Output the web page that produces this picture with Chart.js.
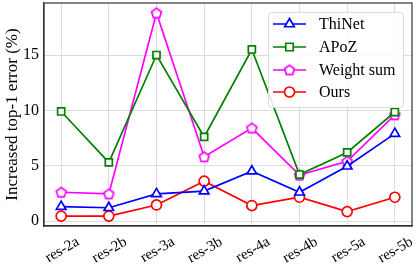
<!DOCTYPE html>
<html>
<head>
<meta charset="utf-8">
<script src="https://cdn.jsdelivr.net/npm/chart.js@4"></script>
<style>
  body{margin:0;background:#fff;}
  #wrap{width:416px;height:266px;}
</style>
</head>
<body>
<div id="wrap"><canvas id="myChart" width="416" height="266"></canvas></div>
<script>
'use strict'
let layers = ['res-2a','res-2b','res-3a','res-3b','res-4a','res-4b','res-5a','res-5b'];
let thinet = [1.3, 1.2, 2.45, 2.7, 4.5, 2.6, 4.95, 7.9];
let apoz = [9.9, 5.3, 15.0, 7.6, 15.5, 4.2, 6.2, 9.85];
let weightSum = [2.6, 2.45, 18.8, 5.8, 8.4, 4.15, 5.4, 9.6];
let ours = [0.45, 0.45, 1.45, 3.6, 1.4, 2.15, 0.85, 2.15];
let yTicks = [0, 5, 10, 15];

let serif = '"Liberation Serif", "Times New Roman", serif';

// pentagon marker (no built-in one in chart.js)
function makePentagon(color, r){
    let c = document.createElement('canvas');
    let s = Math.ceil(r*2+4);
    c.width = s; c.height = s;
    let g = c.getContext('2d');
    g.beginPath();
    for(let i=0;i<5;i++){
        let a = -Math.PI/2 + i*2*Math.PI/5;
        let px = s/2 + r*Math.cos(a), py = s/2 + r*Math.sin(a)+0.5;
        if(i===0) g.moveTo(px,py); else g.lineTo(px,py);
    }
    g.closePath();
    g.fillStyle='#fff'; g.fill();
    g.strokeStyle=color; g.lineWidth=1.7; g.stroke();
    return c;
}
let penta = makePentagon('#ff00ff', 5.2);

function pts(arr){
    return arr.map((v,i)=>({x:i, y:v}));
}

let series = [
    {label:'ThiNet', data:thinet, color:'#0000ff', style:'triangle', r:5.5},
    {label:'APoZ', data:apoz, color:'#008000', style:'rect', r:5},
    {label:'Weight sum', data:weightSum, color:'#ff00ff', style:penta, r:5},
    {label:'Ours', data:ours, color:'#ff0000', style:'circle', r:5}
];

let datasets = series.map(s=>({
    label:s.label,
    data:pts(s.data),
    borderColor:s.color,
    backgroundColor:'#ffffff',
    borderWidth:1.7,
    pointStyle:s.style,
    pointRadius:s.r,
    pointBorderWidth:1.7,
    pointBackgroundColor:'#ffffff',
    pointBorderColor:s.color,
    tension:0,
    clip:false
}));

let frameAndLegend = {
    id:'frameAndLegend',
    afterDraw(chart){
        let ctx = chart.ctx;
        let a = chart.chartArea;
        ctx.save();
        ctx.strokeStyle='#333';
        ctx.lineWidth=1.2;
        ctx.strokeRect(a.left, a.top, a.right-a.left, a.bottom-a.top);

        // legend box
        let bx=268, by=12, bw=135, bh=95;
        ctx.fillStyle='rgba(255,255,255,0.85)';
        ctx.strokeStyle='#ddd';
        ctx.lineWidth=1;
        ctx.beginPath();
        ctx.roundRect(bx+0.5, by+0.5, bw, bh, 3);
        ctx.fill(); ctx.stroke();

        ctx.font = '16px '+serif;
        ctx.textBaseline='middle';
        ctx.textAlign='left';
        let rows=[24,47,70,92];
        let mx=289.5;
        chart.data.datasets.forEach((d,i)=>{
            let y=rows[i];
            ctx.strokeStyle=d.borderColor;
            ctx.lineWidth=1.7;
            ctx.beginPath();
            ctx.moveTo(273,y); ctx.lineTo(306,y);
            ctx.stroke();
            ctx.fillStyle='#ffffff';
            ctx.beginPath();
            if(d.pointStyle==='triangle'){
                let r=d.pointRadius;
                ctx.moveTo(mx, y-r);
                ctx.lineTo(mx+r*0.87, y+r*0.5);
                ctx.lineTo(mx-r*0.87, y+r*0.5);
                ctx.closePath();
                ctx.fill(); ctx.stroke();
            }else if(d.pointStyle==='rect'){
                let r=d.pointRadius*0.75;
                ctx.rect(mx-r, y-r, 2*r, 2*r);
                ctx.fill(); ctx.stroke();
            }else if(d.pointStyle==='circle'){
                ctx.arc(mx, y, d.pointRadius, 0, Math.PI*2);
                ctx.fill(); ctx.stroke();
            }else{
                ctx.drawImage(d.pointStyle, mx-d.pointStyle.width/2, y-d.pointStyle.height/2);
            }
            ctx.fillStyle='#000';
            ctx.fillText(d.label, 319, y+1);
        });
        ctx.restore();
    }
};

new Chart(document.getElementById('myChart').getContext('2d'), {
    type:'line',
    data:{datasets:datasets},
    plugins:[frameAndLegend],
    options:{
        responsive:false,
        animation:false,
        layout:{autoPadding:false, padding:{top:3,right:4,left:0,bottom:0}},
        plugins:{legend:{display:false}, tooltip:{enabled:false}},
        scales:{
            x:{
                type:'linear',
                min:-0.36, max:7.36,
                afterFit(s){ s.height=40; s.paddingLeft=0; s.paddingRight=0; },
                afterBuildTicks(s){ s.ticks = layers.map((l,i)=>({value:i})); },
                ticks:{
                    includeBounds:false,
                    autoSkip:false,
                    minRotation:30, maxRotation:30,
                    labelOffset:17,
                    color:'#000',
                    padding:7,
                    font:{family:serif, size:15},
                    callback:(v)=>layers[v]
                },
                grid:{color:'#dcdcdc', lineWidth:1, drawTicks:false},
                border:{color:'#333', width:1.2}
            },
            y:{
                min:-0.45, max:19.7,
                afterFit(s){ s.width=44; s.paddingTop=0; s.paddingBottom=0; },
                afterBuildTicks(s){ s.ticks = yTicks.map(v=>({value:v})); },
                ticks:{
                    includeBounds:false,
                    color:'#000',
                    padding:5,
                    font:{family:serif, size:16}
                },
                title:{
                    display:true,
                    text:'Increased top-1 error (%)',
                    color:'#000',
                    padding:{top:2,bottom:0},
                    font:{family:serif, size:17}
                },
                grid:{color:'#dcdcdc', lineWidth:1, drawTicks:false},
                border:{color:'#333', width:1.2}
            }
        }
    }
});
</script>
</body>
</html>
